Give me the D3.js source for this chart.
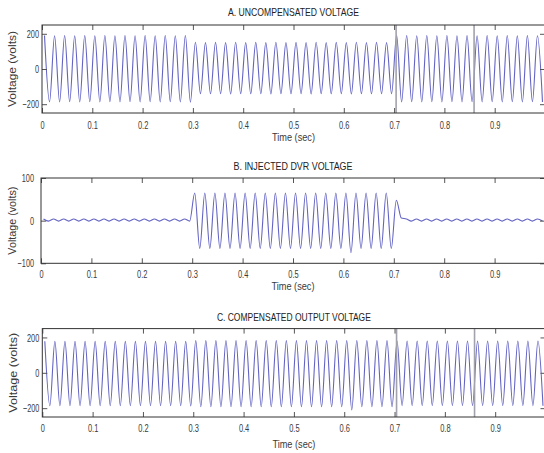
<!DOCTYPE html>
<html>
<head>
<meta charset="utf-8">
<script src="https://cdn.jsdelivr.net/npm/d3@7"></script>
<style>
  html, body { margin: 0; padding: 0; background: #fff; }
  svg { display: block; }
  text { font-family: "Liberation Sans Narrow", "Arial Narrow", "Liberation Sans", Arial, sans-serif; }
</style>
</head>
<body>
<svg id="chart" width="544" height="453"></svg>
<script>
// ---- Data ----
const titles = ["A. UNCOMPENSATED VOLTAGE", "B. INJECTED DVR VOLTAGE", "C. COMPENSATED OUTPUT VOLTAGE"];
const xLabel = "Time (sec)";
const yLabel = "Voltage (volts)";
const timeTicks = [0, 0.1, 0.2, 0.3, 0.4, 0.5, 0.6, 0.7, 0.8, 0.9, 1];
// the label of the last tick (1) falls outside the picture
const timeTickLabels = ["0", "0.1", "0.2", "0.3", "0.4", "0.5", "0.6", "0.7", "0.8", "0.9", ""];
const yTicksA = [-200, 0, 200];
const yTicksB = [-100, 0, 100];
const yTicksC = [-200, 0, 200];
const yDomainA = [-250, 250];
const yDomainB = [-100, 100];
const yDomainC = [-250, 250];
// half-cycle extremes of the 50 Hz waveforms (one value every 0.01 s, first at 0.005 s)
const firstExtremeTime = 0.005;
const halfPeriod = 0.01;
const uncompensated = [
  190,-186,189,-187,190,-186,189,-187,190,-186,189,-187,190,-186,189,-187,190,-186,189,-187,
  190,-186,189,-187,190,-186,189,-187,190,-188,
  152,-140,150,-141,151,-140,150,-142,152,-140,150,-141,151,-140,150,-142,152,-140,150,-141,
  151,-140,150,-142,152,-140,150,-141,151,-140,150,-142,152,-140,150,-141,151,-140,150,-140,
  191,-187,190,-186,189,-187,190,-186,189,-187,190,-186,189,-187,190,-186,189,-187,190,-186,
  189,-187,190,-186,189,-187,190,-186,189,-187
];
const injected = [
  4,-1,4,-1,4,-1,4,-1,4,-1,4,-1,4,-1,4,-1,4,-1,4,-1,
  4,-1,4,-1,4,-1,4,-1,4,-1,
  65,-65,65,-65,65,-65,65,-65,65,-65,65,-65,65,-65,65,-65,65,-65,65,-65,
  65,-65,65,-65,65,-65,65,-65,65,-65,65,-75,65,-65,65,-65,65,-65,65,-65,
  48,6,4,-1,4,-1,4,-1,4,-1,4,-1,4,-1,4,-1,4,-1,4,-1,
  4,-1,4,-1,4,-1,4,-1,4,-1
];
const compensated = [
  178,-186,178,-186,178,-186,178,-186,178,-186,178,-186,178,-186,178,-186,178,-186,178,-186,
  178,-186,178,-186,178,-186,178,-186,178,-188,
  182,-192,182,-192,182,-192,182,-192,182,-192,182,-192,182,-192,182,-192,182,-192,182,-192,
  182,-192,182,-192,182,-192,182,-192,182,-192,182,-210,182,-192,182,-192,182,-192,182,-192,
  180,-186,180,-186,180,-186,180,-186,180,-186,180,-186,180,-186,180,-186,180,-186,180,-186,
  180,-186,180,-186,180,-186,180,-186,180,-186
];
const cursorTimes = [0.704, 0.859];

// ---- Layout ----
const panels = [
  { title: titles[0], values: uncompensated, yDomain: yDomainA, yTicks: yTicksA, cursors: cursorTimes,
    left: 42, right: 545, top: 25, bottom: 113, titleY: 15.5, xTickPad: 8, yTickPad: 3,
    xLabelY: 141, yLabelX: 16, yLabelLen: 76, titleLen: 131 },
  { title: titles[1], values: injected, yDomain: yDomainB, yTicks: yTicksB, cursors: [],
    left: 41, right: 545, top: 178, bottom: 263.3, titleY: 170, xTickPad: 7, yTickPad: 7,
    xLabelY: 290, yLabelX: 15.5, yLabelLen: 68, titleLen: 119 },
  { title: titles[2], values: compensated, yDomain: yDomainC, yTicks: yTicksC, cursors: cursorTimes,
    left: 42.3, right: 545.5, top: 328.6, bottom: 417, titleY: 320.5, xTickPad: 7, yTickPad: 3,
    xLabelY: 448, yLabelX: 16.5, yLabelLen: 80, titleLen: 154 }
];

const svg = d3.select("#chart");
const lineColor = "#5252bc";
const textColor = "#3a3a3a";

// condensed look of the original tick numbers
function narrowLen(s) {
  let w = 0;
  for (const c of s) w += (c === ".") ? 2.2 : (c === "-") ? 3 : 4.1;
  return w;
}

panels.forEach(p => {
  const x = d3.scaleLinear().domain([0, 1]).range([p.left, p.right]);
  const y = d3.scaleLinear().domain(p.yDomain).range([p.bottom, p.top]);
  const g = svg.append("g");
  const pts = p.values.map((v, i) => ({ t: firstExtremeTime + i * halfPeriod, v }));

  const clipId = "clip" + Math.round(p.top);
  svg.append("clipPath").attr("id", clipId)
    .append("rect").attr("x", p.left).attr("y", p.top)
    .attr("width", p.right - p.left).attr("height", p.bottom - p.top);

  // waveform
  const line = d3.line().x(d => x(d.t)).y(d => y(d.v)).curve(d3.curveMonotoneX);
  g.append("path").datum(pts)
    .attr("clip-path", `url(#${clipId})`)
    .attr("fill", "none").attr("stroke", lineColor).attr("stroke-width", 1.1)
    .attr("stroke-opacity", 0.9)
    .attr("d", line);

  // data cursor lines
  g.selectAll(".cursor").data(p.cursors).enter().append("line")
    .attr("x1", d => x(d)).attr("x2", d => x(d))
    .attr("y1", p.top).attr("y2", p.bottom)
    .attr("stroke", "#a2a2ac").attr("stroke-width", 1.6);

  // axes with inward ticks
  const fmt = (d) => timeTickLabels[timeTicks.indexOf(d)];
  const xb = g.append("g").attr("transform", `translate(0,${p.bottom})`)
    .call(d3.axisBottom(x).tickValues(timeTicks).tickFormat(fmt)
      .tickSizeInner(-5).tickSizeOuter(0).tickPadding(p.xTickPad));
  const xt = g.append("g").attr("transform", `translate(0,${p.top})`)
    .call(d3.axisTop(x).tickValues(timeTicks).tickFormat("")
      .tickSizeInner(-5).tickSizeOuter(0));
  const yl = g.append("g").attr("transform", `translate(${p.left},0)`)
    .call(d3.axisLeft(y).tickValues(p.yTicks).tickFormat(d3.format("d"))
      .tickSizeInner(-5).tickSizeOuter(0).tickPadding(p.yTickPad));
  const yr = g.append("g").attr("transform", `translate(${p.right},0)`)
    .call(d3.axisRight(y).tickValues(p.yTicks).tickFormat("")
      .tickSizeInner(-5).tickSizeOuter(0));

  [xb, xt, yl, yr].forEach(a => {
    a.select(".domain").remove();
    a.selectAll(".tick line").attr("stroke", "#555");
    a.selectAll("text").attr("fill", textColor).attr("font-size", 11.5)
      .each(function () {
        const s = d3.select(this).text();
        if (s) d3.select(this).attr("textLength", narrowLen(s)).attr("lengthAdjust", "spacingAndGlyphs");
      });
  });

  // box
  g.append("rect").attr("x", p.left).attr("y", p.top)
    .attr("width", p.right - p.left).attr("height", p.bottom - p.top)
    .attr("fill", "none").attr("stroke", "#333").attr("stroke-width", 1);

  // title
  g.append("text").attr("x", (p.left + p.right) / 2).attr("y", p.titleY)
    .attr("text-anchor", "middle").attr("font-size", 10.5).attr("fill", "#222")
    .attr("textLength", p.titleLen).attr("lengthAdjust", "spacingAndGlyphs")
    .text(p.title);

  // x label
  g.append("text").attr("x", (p.left + p.right) / 2).attr("y", p.xLabelY)
    .attr("text-anchor", "middle").attr("font-size", 11.5).attr("fill", textColor)
    .attr("textLength", 43).attr("lengthAdjust", "spacingAndGlyphs")
    .text(xLabel);

  // y label
  g.append("text")
    .attr("transform", `translate(${p.yLabelX},${(p.top + p.bottom) / 2}) rotate(-90)`)
    .attr("text-anchor", "middle").attr("font-size", 11).attr("fill", textColor)
    .attr("textLength", p.yLabelLen).attr("lengthAdjust", "spacingAndGlyphs")
    .text(yLabel);
});
</script>
</body>
</html>
